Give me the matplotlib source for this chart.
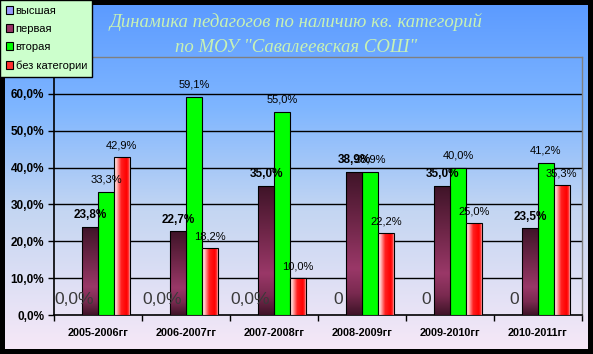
import matplotlib
matplotlib.use("Agg")
import matplotlib.pyplot as plt
import numpy as np
from matplotlib.patches import Patch
from matplotlib.colors import LinearSegmentedColormap

categories = ["2005-2006гг", "2006-2007гг", "2007-2008гг", "2008-2009гг", "2009-2010гг", "2010-2011гг"]
series_names = ["высшая", "первая", "вторая", "без категории"]
vysshaya = [0.0, 0.0, 0.0, 0.0, 0.0, 0.0]
pervaya = [23.8, 22.7, 35.0, 38.9, 35.0, 23.5]
vtoraya = [33.3, 59.1, 55.0, 38.9, 40.0, 41.2]
bez_kat = [42.9, 18.2, 10.0, 22.2, 25.0, 35.3]
vysshaya_labels = ["0,0%", "0,0%", "0,0%", "0", "0", "0"]
yticks = [0, 10, 20, 30, 40, 50, 60]
title_lines = ["Динамика педагогов по наличию кв. категорий", "по МОУ \"Савалеевская СОШ\""]

W, H = 593, 354
fig = plt.figure(figsize=(W / 100, H / 100), dpi=100, facecolor="black")

# background gradient panel
bg = fig.add_axes([5 / W, 5 / H, 583 / W, 344 / H])
bg.set_axis_off()
bg_cmap = LinearSegmentedColormap.from_list(
    "bg", [(0.0, "#5c9bff"), (0.3, "#7fb6ff"), (0.6, "#c4d6f2"), (1.0, "#f6e8f7")])
grad = np.linspace(0, 1, 256).reshape(-1, 1)
bg.imshow(grad, aspect="auto", cmap=bg_cmap, extent=[0, 1, 0, 1], origin="upper")
bg.set_xlim(0, 1)
bg.set_ylim(0, 1)

ax = fig.add_axes([54 / W, (H - 315) / H, (582 - 54) / W, (315 - 57) / H])
ax.set_facecolor("none")
ax.set_zorder(2)

x = np.arange(len(categories))
w = 0.18
offs = [-1.5 * w, -0.5 * w, 0.5 * w, 1.5 * w]

ax.set_xlim(-0.5, len(categories) - 0.5)
ax.set_ylim(0, 70)
for yv in yticks[1:]:
    ax.axhline(yv, color="black", lw=1.0, zorder=1)

b0 = ax.bar(x + offs[0], vysshaya, w, color="#9999ff", edgecolor="black", lw=0.8, zorder=3)
b1 = ax.bar(x + offs[1], pervaya, w, color="#993366", edgecolor="black", lw=0.8, zorder=3)
b2 = ax.bar(x + offs[2], vtoraya, w, color="#00ff00", edgecolor="black", lw=0.8, zorder=3)
b3 = ax.bar(x + offs[3], bez_kat, w, color="#ff0000", edgecolor="black", lw=0.8, zorder=3)

cm_perv = LinearSegmentedColormap.from_list(
    "perv", [(0.0, "#3f1428"), (0.35, "#6e2648"), (0.68, "#9a3868"), (0.85, "#7a2a50"), (1.0, "#3f1428")])
cm_bez = LinearSegmentedColormap.from_list(
    "bez", [(0.0, "#ffe0e0"), (0.15, "#ffc8c8"), (0.45, "#ff2020"), (0.8, "#ff0000"), (0.92, "#ff3030"), (1.0, "#ffb0b0")])

for p in b1:
    xx, yy, ww, hh = p.get_x(), p.get_y(), p.get_width(), p.get_height()
    im = ax.imshow(np.linspace(0, 1, 128).reshape(-1, 1), cmap=cm_perv, aspect="auto",
                   extent=[xx, xx + ww, yy, yy + hh], origin="upper", zorder=3.1)
    im.set_clip_path(p)
    p.set_facecolor("none")
    p.set_zorder(3.2)
for p in b3:
    xx, yy, ww, hh = p.get_x(), p.get_y(), p.get_width(), p.get_height()
    im = ax.imshow(np.linspace(0, 1, 128).reshape(1, -1), cmap=cm_bez, aspect="auto",
                   extent=[xx, xx + ww, yy, yy + hh], origin="upper", zorder=3.1)
    im.set_clip_path(p)
    p.set_facecolor("none")
    p.set_zorder(3.2)
ax.set_xlim(-0.5, len(categories) - 0.5)
ax.set_ylim(0, 70)

def fmt(v):
    return f"{v:.1f}%".replace(".", ",")

for xi, lab in zip(x + offs[0], vysshaya_labels):
    ax.annotate(lab, (xi, 0), xytext=(0, 11), textcoords="offset points", ha="center", va="center",
                fontsize=12.5, color="#3a3a3a", fontfamily="Liberation Sans", zorder=5)
for xi, v in zip(x + offs[1], pervaya):
    ax.annotate(fmt(v), (xi, v), xytext=(0, 8.5), textcoords="offset points", ha="center", va="center",
                fontsize=8.5, fontweight="bold", color="black", fontfamily="Liberation Sans", zorder=5)
for xi, v in zip(x + offs[2], vtoraya):
    ax.annotate(fmt(v), (xi, v), xytext=(0, 9), textcoords="offset points", ha="center", va="center",
                fontsize=8, color="black", fontfamily="Liberation Sans", zorder=5)
for xi, v in zip(x + offs[3], bez_kat):
    ax.annotate(fmt(v), (xi, v), xytext=(0, 8.5), textcoords="offset points", ha="center", va="center",
                fontsize=8, color="black", fontfamily="Liberation Sans", zorder=5)

ax.set_yticks(yticks)
ax.set_yticklabels([f"{t:.1f}%".replace(".", ",") for t in yticks], fontsize=8.5, fontweight="bold",
                   fontfamily="Liberation Sans")
ax.set_xticks(x)
ax.set_xticklabels(categories, fontsize=7.8, fontweight="bold", fontfamily="Liberation Sans")
ax.tick_params(axis="x", length=0, pad=9)
ax.set_xticks(np.arange(-0.5, len(categories) + 0.5, 1), minor=True)
ax.tick_params(axis="x", which="minor", length=4, width=1, direction="out")
ax.tick_params(axis="y", length=4, width=1, direction="out", pad=3)
for s in ["left", "bottom"]:
    ax.spines[s].set_color("black")
    ax.spines[s].set_linewidth(1.2)
for s in ["top", "right"]:
    ax.spines[s].set_color("#808080")
    ax.spines[s].set_linewidth(1.0)

fig.text(296 / W, 1 - 22 / H, title_lines[0], ha="center", va="center", fontsize=13.5, style="italic",
         color="#c8f2b4", fontfamily="Liberation Serif")
fig.text(296 / W, 1 - 47 / H, title_lines[1], ha="center", va="center", fontsize=13.5, style="italic",
         color="#c8f2b4", fontfamily="Liberation Serif")

handles = [Patch(facecolor=c, edgecolor="black", lw=0.8) for c in ["#9999ff", "#993366", "#00ff00", "#ff3030"]]
leg = fig.legend(handles, series_names, loc="upper left", bbox_to_anchor=(0, 1), borderaxespad=0,
                 fancybox=False, frameon=True, facecolor="#ccffcc", edgecolor="black", framealpha=1,
                 prop={"family": "Liberation Sans", "size": 8}, handlelength=0.7, handleheight=0.7,
                 handletextpad=0.2, labelspacing=0.75, borderpad=0.5)
leg.get_frame().set_linewidth(1.0)
leg.set_zorder(10)

fig.savefig("out.png", dpi=100, facecolor="black")
